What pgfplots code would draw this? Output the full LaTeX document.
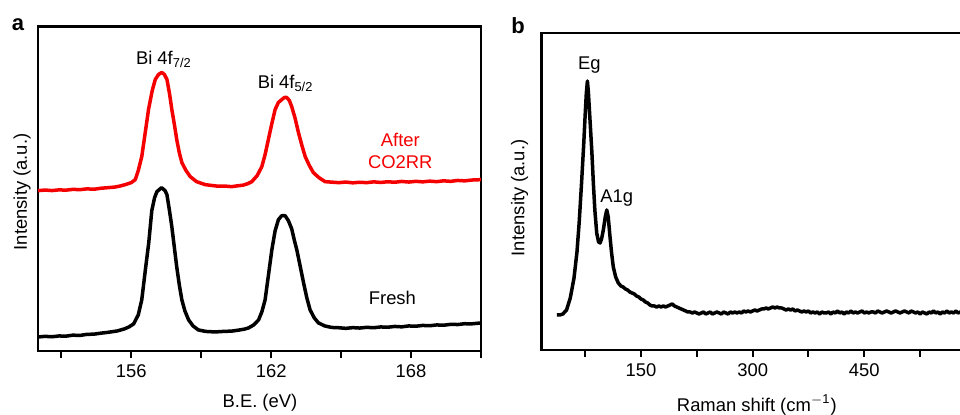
\documentclass[border=0pt]{standalone}
\usepackage{fontspec}
\setmainfont{Liberation Sans}
\usepackage{pgfplots}
\pgfplotsset{compat=1.18}
\definecolor{myred}{RGB}{245,0,0}
\begin{document}
\begin{tikzpicture}[font=\fontsize{9.2}{10.5}\selectfont]
\begin{scope}
\clip (0pt,0pt) rectangle (480pt,207.5pt);
\pgfplotsset{
  panel/.style={
    scale only axis,
    anchor=south west,
    axis line style={line width=1.25pt, line join=miter},
    ytick=\empty,
    xtick pos=left,
    tick align=outside,
    major tick length=3.5pt,
    minor tick length=3.5pt,
    every tick/.style={line width=1pt, black},
    /pgf/number format/assume math mode=true,
    clip=true,
  }
}
% ---------- panel a ----------
\begin{axis}[panel,
  at={(19pt,32pt)}, width=221.5pt, height=162pt,
  xmin=152, xmax=171, ymin=0, ymax=324,
  xtick={156,162,168}, minor xtick={153,159,165,171},
  xlabel={B.E. (eV)}, ylabel={Intensity (a.u.)},
  xlabel style={at={(axis description cs:0.501,-0.16)}, anchor=center},
  ylabel style={at={(axis description cs:-0.036,0.49)}, anchor=center},
]
\addplot[myred, line width=1.75pt, line join=round] coordinates {
(152,160)(152.3,160.6)(152.6,160.1)(152.9,160.8)(153.2,160.5)(153.5,161.3)(153.8,161)(154.1,161.8)(154.4,161.4)(154.7,162.4)(155,163)(155.3,163.6)(155.5,164.5)(155.74,166)(156.0,168)(156.17,171)(156.3,180)(156.45,194)(156.6,218)(156.74,241)(156.9,260)(157.03,271)(157.17,276)(157.31,278)(157.42,276)(157.53,271)(157.64,257)(157.74,241)(157.85,226)(157.95,211)(158.06,198)(158.17,188)(158.35,180)(158.53,174)(158.8,169)(159.17,166)(159.45,165.2)(159.7,164.5)(160.0,164.6)(160.31,164)(160.55,164.8)(160.8,165.5)(161.0,167)(161.17,169)(161.4,175)(161.6,184)(161.74,196)(161.88,211)(162.03,227)(162.17,241)(162.31,248)(162.46,251)(162.57,253)(162.67,253)(162.78,250)(162.88,244)(163.03,232)(163.17,218)(163.32,205)(163.46,194)(163.64,185)(163.81,178)(164.05,173)(164.31,169)(164.6,168.5)(164.9,168)(165.2,168.6)(165.5,167.8)(165.8,168.4)(166.1,168)(166.4,168.8)(166.7,168.2)(167,168.9)(167.3,168.4)(167.6,169.2)(167.9,168.6)(168.2,169.3)(168.5,168.8)(168.8,169.5)(169.1,169)(169.4,169.8)(169.7,169.3)(170,170.2)(170.3,169.8)(170.6,170.6)(171,171)
};
\addplot[black, line width=1.75pt, line join=round] coordinates {
(152,14)(152.3,14.6)(152.6,14.2)(152.9,15)(153.2,14.8)(153.5,15.8)(153.8,15.5)(154.1,16.6)(154.4,16.8)(154.7,17.8)(155,18.6)(155.4,20)(155.7,22)(155.9,24)(156.1,27)(156.3,36)(156.45,51)(156.6,80)(156.75,108)(156.88,140)(157.0,153)(157.1,159)(157.3,163)(157.45,160)(157.53,156)(157.64,140)(157.74,124)(157.85,103)(157.95,84)(158.06,66)(158.17,51)(158.3,40)(158.46,31)(158.65,25)(158.88,21)(159.2,19.5)(159.6,19)(160,19.6)(160.3,19.8)(160.6,20.8)(160.85,21.8)(161.03,23)(161.25,26)(161.46,31)(161.6,39)(161.74,51)(161.88,75)(162.03,101)(162.17,120)(162.31,131)(162.45,135)(162.6,135)(162.74,130)(162.88,122)(163.0,110)(163.1,101)(163.25,84)(163.39,68)(163.53,53)(163.67,41)(163.85,33)(164.03,28)(164.3,25)(164.59,23.5)(164.9,23.2)(165.2,22.6)(165.5,23.3)(165.8,22.9)(166.1,23.6)(166.4,23.2)(166.7,24)(167,23.7)(167.3,24.5)(167.6,24.1)(167.9,25)(168.2,24.7)(168.5,25.5)(168.8,25.2)(169.1,26)(169.4,25.7)(169.7,26.6)(170,26.4)(170.3,27.2)(170.6,27.1)(171,28)
};
\node at (axis cs:157.4,291) {Bi 4f\textsubscript{7/2}};
\node at (axis cs:162.62,267) {Bi 4f\textsubscript{5/2}};
\node[myred] at (axis cs:167.54,211) {After};
\node[myred] at (axis cs:167.54,188) {CO2RR};
\node at (axis cs:167.2,53) {Fresh};
\end{axis}
% ---------- panel b ----------
\begin{axis}[panel,
  at={(270.625pt,32.5pt)}, width=217.35pt, height=158.5pt,
  xmin=16, xmax=600, ymin=0, ymax=317,
  xtick={150,300,450}, minor xtick={75,225,375,525},
  xlabel={Raman shift (cm\textsuperscript{$-$1})}, ylabel={Intensity (a.u.)},
  xlabel style={at={(axis description cs:0.496,-0.173)}, anchor=center},
  ylabel style={at={(axis description cs:-0.05,0.48)}, anchor=center},
]
\addplot[black, line width=1.75pt, line join=round] coordinates {
(37,35)(41,35)(45,36)(50,40)(55,52)(60,72)(64,98)(67,128)(70,165)(73,205)(75,235)(76.5,256)(78,269)(79.3,258)(81.5,230)(84,198)(86,167)(88,140)(90.5,117)(93,108)(95,107)(97,111)(99.4,120)(102,133)(104,140)(106,133)(108.4,113)(110.5,97)(112.8,83)(116,73)(119.5,67)(123,64)(126,63)(129,61)(132,60)(135,58)(138,57)(141,56)(144,54)(147,53)(150,51)(153,50)(156,48)(159,47)(162,45)(165,44)(168,44)(171,43)(174,44)(177,43)(180,44)(183,43)(186,44)(189,45)(192,46)(195,44)(198,43)(201,42)(204,41)(207,40)(210,39)(213,38)(216,38)(219,37)(222,38)(225,37)(228,36)(231,37)(234,38)(237,36)(240,37)(243,38)(246,36)(249,37)(252,38)(255,37)(258,36)(261,38)(264,37)(267,36)(270,38)(273,37)(276,38)(279,37)(282,38)(285,37)(288,39)(291,38)(294,39)(297,38)(300,39)(303,40)(306,39)(309,40)(312,41)(315,41)(318,42)(321,41)(324,42)(327,43)(330,42)(333,43)(336,42)(339,42)(342,41)(345,40)(348,41)(351,40)(354,41)(357,39)(360,40)(363,39)(366,38)(369,39)(372,38)(375,39)(378,37)(381,38)(384,37)(387,38)(390,36)(393,38)(396,37)(399,37)(402,38)(405,36)(408,38)(411,37)(414,39)(417,37)(420,38)(423,36)(426,38)(429,37)(432,39)(435,37)(438,38)(441,37)(444,38)(447,39)(450,37)(453,38)(456,37)(459,38)(462,38)(465,37)(468,39)(471,38)(474,37)(477,38)(480,39)(483,38)(486,37)(489,38)(492,39)(495,38)(498,37)(501,38)(504,39)(507,38)(510,37)(513,39)(516,38)(519,37)(522,38)(525,36)(528,38)(531,37)(534,36)(537,38)(540,37)(543,39)(546,37)(549,38)(552,36)(555,38)(558,37)(561,39)(564,37)(567,38)(570,37)(573,39)(576,37)(579,38)(582,37)(585,38)(588,37)(591,38)(594,38)
};
\node at (axis cs:80.5,285) {Eg};
\node at (axis cs:117.4,152) {A1g};
\end{axis}
\node[font=\fontsize{11}{12}\selectfont\bfseries] at (9pt,195pt) {a};
\node[font=\fontsize{11}{12}\selectfont\bfseries] at (259pt,194.5pt) {b};
\end{scope}
\pgfresetboundingbox
\path[use as bounding box] (0pt,0pt) rectangle (480pt,207.5pt);
\end{tikzpicture}
\end{document}
